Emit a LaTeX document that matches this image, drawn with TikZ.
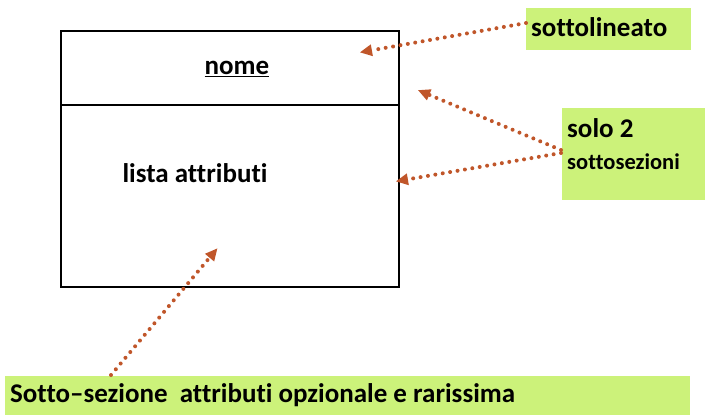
\documentclass[tikz,border=0pt]{standalone}
\usepackage{fontspec}
\setmainfont[Ligatures=NoCommon]{Carlito}
\usetikzlibrary{arrows.meta}
\definecolor{lgreen}{RGB}{204,242,122}
\definecolor{arrc}{RGB}{192,86,42}
\tikzset{
  lbl/.style={fill=lgreen,inner sep=0pt,anchor=north west},
  ptr/.style={draw=arrc,line width=4pt,line cap=round,dash pattern=on 0pt off 7.5pt,
     -{Triangle[length=12pt,width=12pt,line cap=butt,fill=arrc,line width=0pt]}, shorten >=-2pt},
  txt/.style={font=\bfseries\fontsize{27}{31}\selectfont,inner sep=0pt}
}
\begin{document}
\begin{tikzpicture}[x=1pt,y=-1pt]
\useasboundingbox (0,0) rectangle (716,420);
% class box
\draw[line width=1.2pt] (61,31) rectangle (399,287);
\draw[line width=1.2pt] (61,105) -- (399,105);
\node[txt] (nome) at (237,69) {\underline{nome}};
\node[txt] (attr) at (195,173) {lista attributi};
% target coordinates
\coordinate (t1) at (362,52);
\coordinate (t2) at (420,91);
\coordinate (t3) at (398,181);
\coordinate (t4) at (216,250);
% green labels
\node[lbl,minimum width=165pt,minimum height=42pt] (l1) at (526,8) {};
\node[txt,anchor=west] (l1t) at (531,27) {sottolineato};
\node[lbl,minimum width=143pt,minimum height=92pt] (l2) at (562,108) {};
\node[txt,anchor=west] (l2a) at (567,128) {solo 2};
\node[txt,anchor=west,font=\bfseries\fontsize{22.5}{26}\selectfont] (l2b) at (567,162) {sottosezioni};
\node[lbl,minimum width=685pt,minimum height=39pt] (l3) at (5,376) {};
\node[txt,anchor=west] (l3t) at (10,395) {Sotto–sezione\ \ attributi opzionale e rarissima};
% connectors
\coordinate (s1) at (526,23);
\coordinate (s2) at (561,150);
\coordinate (s3) at (561,153);
\coordinate (s4) at (111,375);
\draw[ptr] (s1) -- (t1);
\draw[ptr] (s2) -- (t2);
\draw[ptr] (s3) -- (t3);
\draw[ptr] (s4) -- (t4);
\end{tikzpicture}
\end{document}
